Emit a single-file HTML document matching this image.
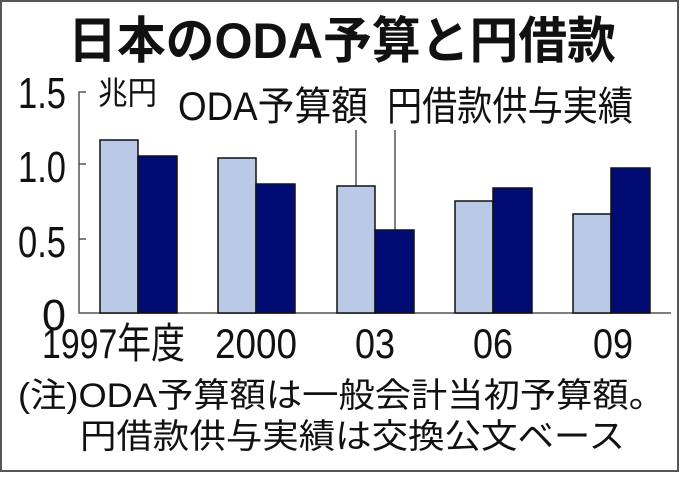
<!DOCTYPE html>
<html><head><meta charset="utf-8"><style>
body{margin:0;background:#fff}
</style></head><body>
<svg width="680" height="473" xmlns="http://www.w3.org/2000/svg">
<rect x="1" y="1" width="677" height="470" fill="#fff" stroke="#555" stroke-width="2"/>
<text x="68" y="58" textLength="548" lengthAdjust="spacingAndGlyphs" font-size="50" font-weight="bold" fill="#111" font-family="Liberation Sans,Noto Sans CJK JP,sans-serif">日本のODA予算と円借款</text>
<g font-family="Liberation Sans,Noto Sans CJK JP,sans-serif" fill="#111" lengthAdjust="spacingAndGlyphs">
<text x="18" y="108" textLength="48" lengthAdjust="spacingAndGlyphs" font-size="44">1.5</text>
<text x="18" y="182" textLength="48" lengthAdjust="spacingAndGlyphs" font-size="44">1.0</text>
<text x="18" y="257" textLength="48" lengthAdjust="spacingAndGlyphs" font-size="44">0.5</text>
<text x="42" y="330" textLength="24" lengthAdjust="spacingAndGlyphs" font-size="44">0</text>
<text x="98" y="104" textLength="59" lengthAdjust="spacingAndGlyphs" font-size="32">兆円</text>
<text x="178" y="120" textLength="190" lengthAdjust="spacingAndGlyphs" font-size="40">ODA予算額</text>
<text x="387" y="120" textLength="246" lengthAdjust="spacingAndGlyphs" font-size="40">円借款供与実績</text>
<text x="42" y="358" textLength="143" lengthAdjust="spacingAndGlyphs" font-size="42">1997年度</text>
<text x="215" y="358" textLength="82" lengthAdjust="spacingAndGlyphs" font-size="42">2000</text>
<text x="355" y="358" textLength="40" lengthAdjust="spacingAndGlyphs" font-size="42">03</text>
<text x="473" y="358" textLength="40" lengthAdjust="spacingAndGlyphs" font-size="42">06</text>
<text x="593" y="358" textLength="40" lengthAdjust="spacingAndGlyphs" font-size="42">09</text>
<text x="18" y="407" textLength="647" lengthAdjust="spacingAndGlyphs" font-size="34">(注)ODA予算額は一般会計当初予算額。</text>
<text x="80" y="448" textLength="545" lengthAdjust="spacingAndGlyphs" font-size="34">円借款供与実績は交換公文ベース</text>
</g>
<g stroke="#555" stroke-width="1.5" fill="none">
<path d="M86 92H79V313H671"/>
<path d="M79 164H86M79 239H86"/>
<path d="M356 130V186M395 130V230"/>
</g>
<g stroke="#111" stroke-width="1.5">
<rect x="100" y="140" width="38" height="173" fill="#b9c9e6"/>
<rect x="138" y="156" width="39" height="157" fill="#000c74"/>
<rect x="218" y="158" width="38" height="155" fill="#b9c9e6"/>
<rect x="256" y="184" width="39" height="129" fill="#000c74"/>
<rect x="337" y="186" width="38" height="127" fill="#b9c9e6"/>
<rect x="375" y="230" width="39" height="83" fill="#000c74"/>
<rect x="455" y="201" width="38" height="112" fill="#b9c9e6"/>
<rect x="493" y="188" width="39" height="125" fill="#000c74"/>
<rect x="573" y="214" width="38" height="99" fill="#b9c9e6"/>
<rect x="611" y="168" width="39" height="145" fill="#000c74"/>
</g>
</svg>
</body></html>
